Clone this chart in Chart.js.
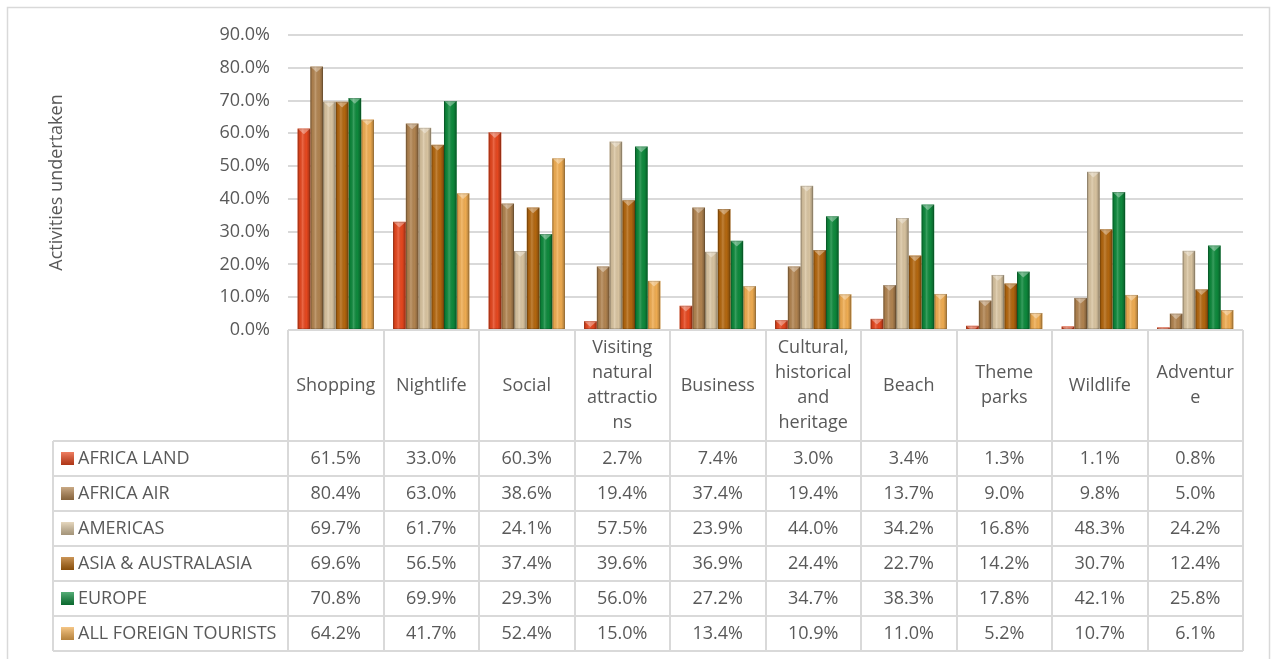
<!DOCTYPE html>
<html>
<head>
<meta charset="utf-8">
<script src="https://cdn.jsdelivr.net/npm/chart.js@4.4.0/dist/chart.umd.min.js"></script>
<style>
  html, body { margin: 0; padding: 0; background: #fff; }
</style>
</head>
<body>
<canvas id="myChart" width="1272" height="659"></canvas>
<script>
const ctx = document.getElementById('myChart');

// categories, wrapped the way the table header shows them
const categories = [
    ['Shopping'], ['Nightlife'], ['Social'],
    ['Visiting', 'natural', 'attractio', 'ns'],
    ['Business'],
    ['Cultural,', 'historical', 'and', 'heritage'],
    ['Beach'], ['Theme', 'parks'], ['Wildlife'], ['Adventur', 'e']
];
const seriesNames = ['AFRICA LAND', 'AFRICA AIR', 'AMERICAS', 'ASIA & AUSTRALASIA', 'EUROPE', 'ALL FOREIGN TOURISTS'];

const africaLand = [61.5, 33.0, 60.3, 2.7, 7.4, 3.0, 3.4, 1.3, 1.1, 0.8];
const africaAir  = [80.4, 63.0, 38.6, 19.4, 37.4, 19.4, 13.7, 9.0, 9.8, 5.0];
const americas   = [69.7, 61.7, 24.1, 57.5, 23.9, 44.0, 34.2, 16.8, 48.3, 24.2];
const asiaAus    = [69.6, 56.5, 37.4, 39.6, 36.9, 24.4, 22.7, 14.2, 30.7, 12.4];
const europe     = [70.8, 69.9, 29.3, 56.0, 27.2, 34.7, 38.3, 17.8, 42.1, 25.8];
const allForeign = [64.2, 41.7, 52.4, 15.0, 13.4, 10.9, 11.0, 5.2, 10.7, 6.1];

const yTicks = [0, 10, 20, 30, 40, 50, 60, 70, 80, 90];

const seriesColors = ['#E8481F', '#B38551', '#DBC6A2', '#B5680F', '#0E8B3D', '#F2AE52'];
const allSeries = [africaLand, africaAir, americas, asiaAus, europe, allForeign];

const textColor = '#595959';
const lineColor = '#D9D9D9';
const fontFamily = '"Open Sans", sans-serif';

var pct = v => v.toFixed(1) + '%';

const tablePlugin = {
    id: 'dataTable',
    beforeDraw(chart) {
        const c = chart.ctx;
        c.save();
        c.strokeStyle = lineColor;
        c.lineWidth = 1.5;
        c.strokeRect(7.5, 7.5, 1262, 670);
        c.restore();
    },
    afterDatasetsDraw(chart) {
        // bevel look on each bar
        const c = chart.ctx;
        chart.data.datasets.forEach((ds, di) => {
            chart.getDatasetMeta(di).data.forEach(bar => {
                const l = bar.x - bar.width / 2, w = bar.width;
                const t = bar.y, h = bar.base - bar.y;
                if (h <= 0) return;
                c.save();
                c.beginPath();
                c.rect(l, t, w, h);
                c.clip();
                const g = c.createLinearGradient(l, 0, l + w, 0);
                g.addColorStop(0, 'rgba(0,0,0,0.28)');
                g.addColorStop(0.18, 'rgba(0,0,0,0.05)');
                g.addColorStop(0.4, 'rgba(255,255,255,0.18)');
                g.addColorStop(0.7, 'rgba(0,0,0,0.02)');
                g.addColorStop(1, 'rgba(0,0,0,0.32)');
                c.fillStyle = g;
                c.fillRect(l, t, w, h);
                c.beginPath();
                c.moveTo(l, t);
                c.lineTo(l + w, t);
                c.lineTo(l + w / 2, t + w * 0.45);
                c.closePath();
                c.fillStyle = 'rgba(255,255,255,0.35)';
                c.fill();
                c.strokeStyle = 'rgba(0,0,0,0.15)';
                c.lineWidth = 1;
                c.strokeRect(l + 0.5, t + 0.5, w - 1, h - 1);
                c.restore();
            });
        });
    },
    afterDraw(chart) {
        const c = chart.ctx;
        const x = chart.scales.x;
        const area = chart.chartArea;
        const step = x.getPixelForValue(1) - x.getPixelForValue(0);
        const left = area.left, right = area.right, top = area.bottom;
        const headerH = 111, rowH = 35, legendLeft = 53;
        const bottom = top + headerH + rowH * seriesNames.length;

        c.save();
        c.strokeStyle = lineColor;
        c.lineWidth = 2;
        c.beginPath();
        // top line of header
        c.moveTo(left, top); c.lineTo(right, top);
        // vertical column lines
        for (let i = 0; i <= categories.length; i++) {
            const px = Math.round(x.getPixelForValue(i) - step / 2);
            c.moveTo(px, top); c.lineTo(px, bottom);
        }
        // legend column left edge
        c.moveTo(legendLeft, top + headerH); c.lineTo(legendLeft, bottom);
        // row lines
        for (let r = 0; r <= seriesNames.length; r++) {
            const py = top + headerH + r * rowH;
            c.moveTo(legendLeft, py); c.lineTo(right, py);
        }
        c.stroke();

        c.fillStyle = textColor;
        c.font = '18px ' + fontFamily;
        c.textAlign = 'center';
        c.textBaseline = 'middle';
        categories.forEach((lines, i) => {
            const cx = x.getPixelForValue(i);
            const y0 = top + headerH / 2 - (lines.length - 1) * 25 / 2;
            lines.forEach((ln, k) => c.fillText(ln, cx, y0 + k * 25));
        });

        seriesNames.forEach((name, r) => {
            const cy = top + headerH + r * rowH + rowH / 2;
            // legend key
            const kx = 61, ky = cy - 6.5, ks = 13;
            c.fillStyle = seriesColors[r];
            c.fillRect(kx, ky, ks, ks);
            const g = c.createLinearGradient(0, ky, 0, ky + ks);
            g.addColorStop(0, 'rgba(255,255,255,0.3)');
            g.addColorStop(1, 'rgba(0,0,0,0.25)');
            c.fillStyle = g;
            c.fillRect(kx, ky, ks, ks);

            c.fillStyle = textColor;
            c.textAlign = 'left';
            c.fillText(name, 78, cy);
            c.textAlign = 'center';
            allSeries[r].forEach((v, i) => {
                c.fillText(pct(v), x.getPixelForValue(i), cy);
            });
        });
        c.restore();
    }
};

const chart = new Chart(ctx, {
    type: 'bar',
    plugins: [tablePlugin],
    data: {
        labels: categories.map(l => l.join(' ')),
        datasets: seriesNames.map((name, i) => ({
            label: name,
            data: allSeries[i],
            backgroundColor: seriesColors[i],
            borderWidth: 0,
            categoryPercentage: 0.8,
            barPercentage: 1.0
        }))
    },
    options: {
        responsive: false,
        animation: false,
        layout: { padding: { left: 40, top: 35, right: 29, bottom: 329 } },
        plugins: {
            legend: { display: false },
            tooltip: { enabled: false }
        },
        scales: {
            x: { display: false },
            y: {
                min: 0,
                max: 90,
                afterBuildTicks: s => { s.ticks = yTicks.map(v => ({ value: v })); },
                afterFit: s => { s.width = 248; },
                ticks: {
                    callback: v => pct(v),
                    color: textColor,
                    font: { family: fontFamily, size: 18 },
                    padding: 18
                },
                grid: { color: lineColor, lineWidth: 2, drawTicks: false },
                border: { display: false },
                title: {
                    display: true,
                    text: 'Activities undertaken',
                    color: textColor,
                    font: { family: fontFamily, size: 18 },
                    padding: 6
                }
            }
        }
    }
});
</script>
</body>
</html>
